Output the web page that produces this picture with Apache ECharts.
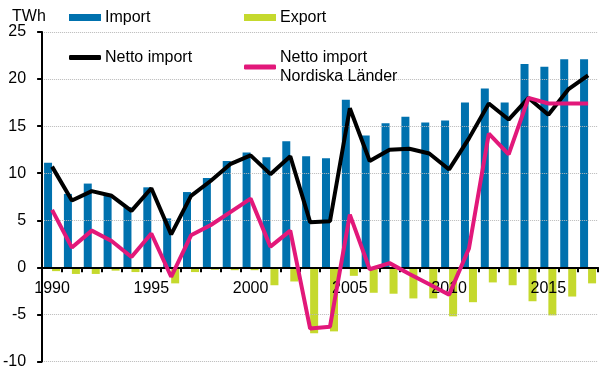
<!DOCTYPE html>
<html>
<head>
<meta charset="utf-8">
<script src="https://cdn.jsdelivr.net/npm/echarts@6/dist/echarts.min.js"></script>
<style>
html,body{margin:0;padding:0;background:#fff;}
#c{width:615px;height:391px;}
</style>
</head>
<body>
<div id="c"></div>
<script>
var years = ['1990','1991','1992','1993','1994','1995','1996','1997','1998','1999','2000','2001','2002','2003','2004','2005','2006','2007','2008','2009','2010','2011','2012','2013','2014','2015','2016','2017'];
var importVals = [11.1,7.8,8.9,7.8,6.4,8.5,5.2,8.0,9.5,11.3,12.2,11.7,13.4,11.8,11.6,17.8,14.0,15.3,16.0,15.4,15.6,17.5,19.0,17.5,21.6,21.3,22.1,22.1];
var exportVals = [-0.4,-0.7,-0.7,-0.35,-0.5,-0.1,-1.7,-0.5,-0.25,-0.3,-0.3,-1.9,-1.5,-7.0,-6.8,-0.9,-2.7,-2.8,-3.3,-3.3,-5.2,-3.7,-1.6,-1.9,-3.6,-5.1,-3.1,-1.7];
var nettoVals = [10.7,7.1,8.1,7.6,6.0,8.4,3.5,7.6,9.2,11.0,11.9,9.9,11.8,4.8,4.9,16.9,11.3,12.5,12.6,12.1,10.4,13.7,17.4,15.7,18.0,16.2,18.9,20.4];
var nordicVals = [6.1,2.1,3.9,2.8,1.1,3.6,-1.0,3.4,4.5,5.9,7.3,2.2,3.9,-6.5,-6.3,5.6,-0.2,0.45,-0.7,-1.8,-2.9,2.0,14.2,12.0,18.0,17.4,17.4,17.4];
var yTicks = {min:-10, max:25, interval:5};

var FONT = '"Liberation Sans", Arial, sans-serif';
var cBlue = '#0071ae', cGreen = '#c5d92d', cPink = '#e2187a', cBlack = '#000000';
var GRID_TOP = 32, GRID_BOTTOM = 29.5, H = 391;
var gridH = H - GRID_TOP - GRID_BOTTOM;
var zeroOffset = -gridH * (0 - yTicks.min) / (yTicks.max - yTicks.min);

var chart = echarts.init(document.getElementById('c'), null, {renderer:'canvas'});
function leg(name, left, top, icon, h){
  return {data:[name], left:left, top:top, orient:'horizontal', icon:icon, itemWidth:32, itemHeight:h, itemGap:0,
    textStyle:{fontFamily:FONT, fontSize:16, color:'#000', lineHeight:19, padding:[0,0,0,-1]}, selectedMode:false, padding:0};
}
chart.setOption({
  animation:false,
  title:{text:'TWh', left:7, top:4, textStyle:{fontFamily:FONT, fontSize:16, fontWeight:'normal', color:'#000'}},
  legend:[
    leg('Import', 69, 8, 'rect', 7),
    leg('Export', 244, 8, 'rect', 7),
    leg('Netto import', 69, 48, 'roundRect', 5),
    leg('Netto import\nNordiska Länder', 244, 48, 'roundRect', 5)
  ],
  grid:{left:41, right:17, top:GRID_TOP, bottom:GRID_BOTTOM, containLabel:false},
  xAxis:{type:'category', data:years, boundaryGap:true, position:'bottom', offset:zeroOffset, z:3,
    axisLine:{onZero:false, lineStyle:{color:'#000', width:2}},
    axisTick:{show:true, interval:0, length:5, inside:false, lineStyle:{color:'#000', width:2}},
    axisLabel:{interval:4, margin:13, fontFamily:FONT, fontSize:16, color:'#000'},
    splitLine:{show:false}},
  yAxis:{type:'value', min:yTicks.min, max:yTicks.max, interval:yTicks.interval, z:3,
    axisLine:{show:true, lineStyle:{color:'#000', width:2}},
    axisTick:{show:true, length:5, lineStyle:{color:'#000', width:2}},
    axisLabel:{margin:16, fontFamily:FONT, fontSize:16, color:'#000'},
    splitLine:{show:true, lineStyle:{color:'#b8b8b8', type:'dotted', width:1}}},
  series:[
    {name:'Import', type:'bar', data:importVals, barWidth:8, barGap:'0%', itemStyle:{color:cBlue}, z:2},
    {name:'Export', type:'bar', data:exportVals, barWidth:8, barGap:'0%', itemStyle:{color:cGreen}, z:2},
    {name:'Netto import', type:'line', data:nettoVals, symbol:'none', lineStyle:{color:cBlack, width:4}, itemStyle:{color:cBlack}, z:4},
    {name:'Netto import\nNordiska Länder', type:'line', data:nordicVals, symbol:'none', lineStyle:{color:cPink, width:4}, itemStyle:{color:cPink}, z:5}
  ]
});
</script>
</body>
</html>
